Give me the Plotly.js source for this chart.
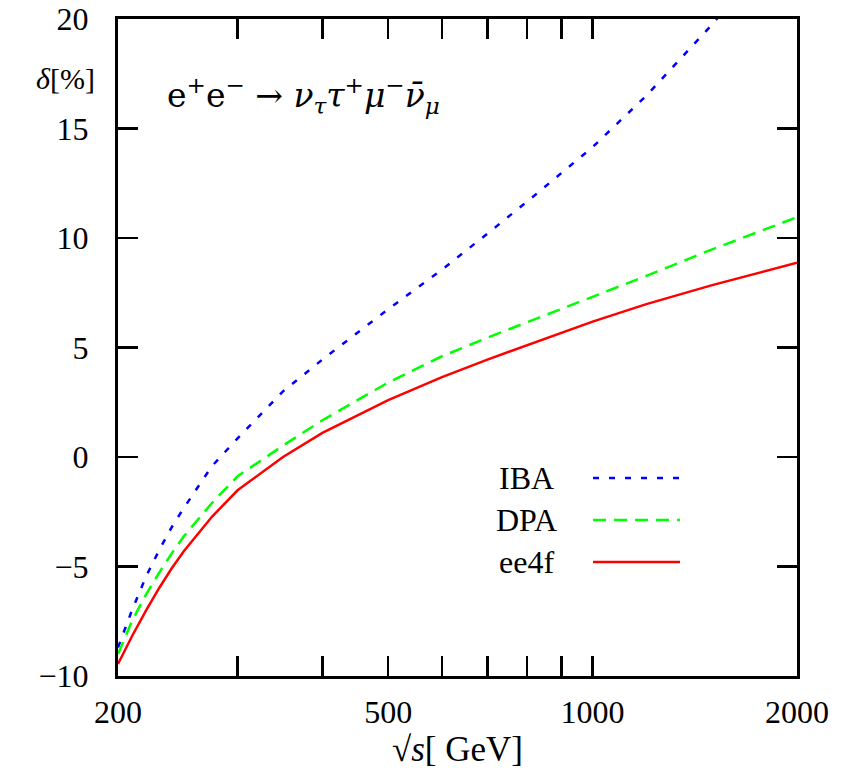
<!DOCTYPE html>
<html>
<head>
<meta charset="utf-8">
<script src="https://cdn.plot.ly/plotly-3.0.1.min.js"></script>
<style>html,body{margin:0;padding:0;background:#fff;}#chart{width:841px;height:777px;}</style>
</head>
<body>
<div id="chart"></div>
<script>
// sqrt(s) in GeV
const energies = [200, 210, 220, 230, 240, 250, 275, 300, 350, 400, 500, 600, 700, 800, 1000, 1200, 1500, 2000];
// delta [%]
const ibaValues  = [-8.7, -6.95, -5.45, -4.25, -3.2, -2.33, -0.42, 0.85, 3.0, 4.45, 6.75, 8.55, 10.2, 11.65, 14.15, 16.5, 19.75, 24.5];
const dpaValues  = [-9.0, -7.45, -6.27, -5.28, -4.4, -3.62, -2.1, -0.88, 0.52, 1.68, 3.4, 4.6, 5.45, 6.15, 7.3, 8.27, 9.48, 10.95];
const ee4fValues = [-9.45, -8.15, -7.0, -5.98, -5.08, -4.3, -2.73, -1.52, 0.0, 1.1, 2.6, 3.65, 4.45, 5.1, 6.18, 6.98, 7.85, 8.87];

const seriesNames = ['IBA', 'DPA', 'ee4f'];
const xTickVals = [200, 300, 400, 500, 600, 700, 800, 900, 1000, 2000];
const xTickText = ['200', '', '', '500', '', '', '', '', '1000', '2000'];
const yTickVals = [-10, -5, 0, 5, 10, 15, 20];

const serif = 'Liberation Serif';
const mathSerif = 'DejaVu Serif';
const colors = ['#0000ff', '#00ff00', '#ff0000'];
const dashes = ['6px,10px', '13px,8px', 'solid'];
const allY = [ibaValues, dpaValues, ee4fValues];

const traces = allY.map((ys, i) => ({
  x: energies, y: ys, name: seriesNames[i], type: 'scatter', mode: 'lines',
  line: {color: colors[i], width: 2.5, dash: dashes[i]},
  showlegend: false, hoverinfo: 'skip'
}));

// legend rows (paper coords)
const legY = [0.3014, 0.2374, 0.1735];
const shapes = seriesNames.map((n, i) => ({
  type: 'line', xref: 'paper', yref: 'paper',
  x0: 0.6996, x1: 0.8277, y0: legY[i], y1: legY[i],
  line: {color: colors[i], width: 2.5, dash: dashes[i]}
}));
const annotations = seriesNames.map((n, i) => ({
  text: n, xref: 'paper', yref: 'paper', x: 0.601, y: legY[i],
  xanchor: 'center', yanchor: 'middle', showarrow: false,
  font: {family: serif, size: 32, color: '#000'}
}));
annotations.push({
  text: '<i>δ</i>[%]', xref: 'paper', yref: 'paper', x: -0.078, y: 0.910,
  xanchor: 'center', yanchor: 'middle', showarrow: false,
  font: {family: serif, size: 30, color: '#000'}
});
annotations.push({
  text: 'e<sup>+</sup>e<sup>−</sup> → <i>ν</i><sub><i>τ</i></sub><i>τ</i><sup>+</sup><i>μ</i><sup>−</sup><i>ν̄</i><sub><i>μ</i></sub>',
  xref: 'paper', yref: 'paper', x: 0.069, y: 0.884,
  xanchor: 'left', yanchor: 'middle', showarrow: false,
  font: {family: mathSerif, size: 33, color: '#000'}
});

const axisCommon = {
  showgrid: false, zeroline: false, showline: true, linecolor: '#000', linewidth: 3,
  mirror: 'allticks', ticks: 'inside', ticklen: 20, tickwidth: 2.5, tickcolor: '#000',
  tickfont: {family: serif, size: 32, color: '#000'}
};

const layout = {
  width: 841, height: 777,
  margin: {l: 118, r: 44, t: 19, b: 101},
  paper_bgcolor: '#fff', plot_bgcolor: '#fff',
  font: {family: serif, color: '#000'},
  xaxis: Object.assign({}, axisCommon, {
    type: 'log', range: [Math.log10(200), Math.log10(2000)],
    tickmode: 'array', tickvals: xTickVals, ticktext: xTickText,
    ticklabelstandoff: 6,
    title: {text: '√<i>s</i>[ GeV]', font: {family: serif, size: 35, color: '#000'}, standoff: 8}
  }),
  yaxis: Object.assign({}, axisCommon, {
    range: [-10, 20], tickmode: 'array', tickvals: yTickVals,
    ticklabelstandoff: 20
  }),
  shapes: shapes,
  annotations: annotations,
  showlegend: false
};

Plotly.newPlot('chart', traces, layout, {displayModeBar: false, staticPlot: true});
</script>
</body>
</html>
